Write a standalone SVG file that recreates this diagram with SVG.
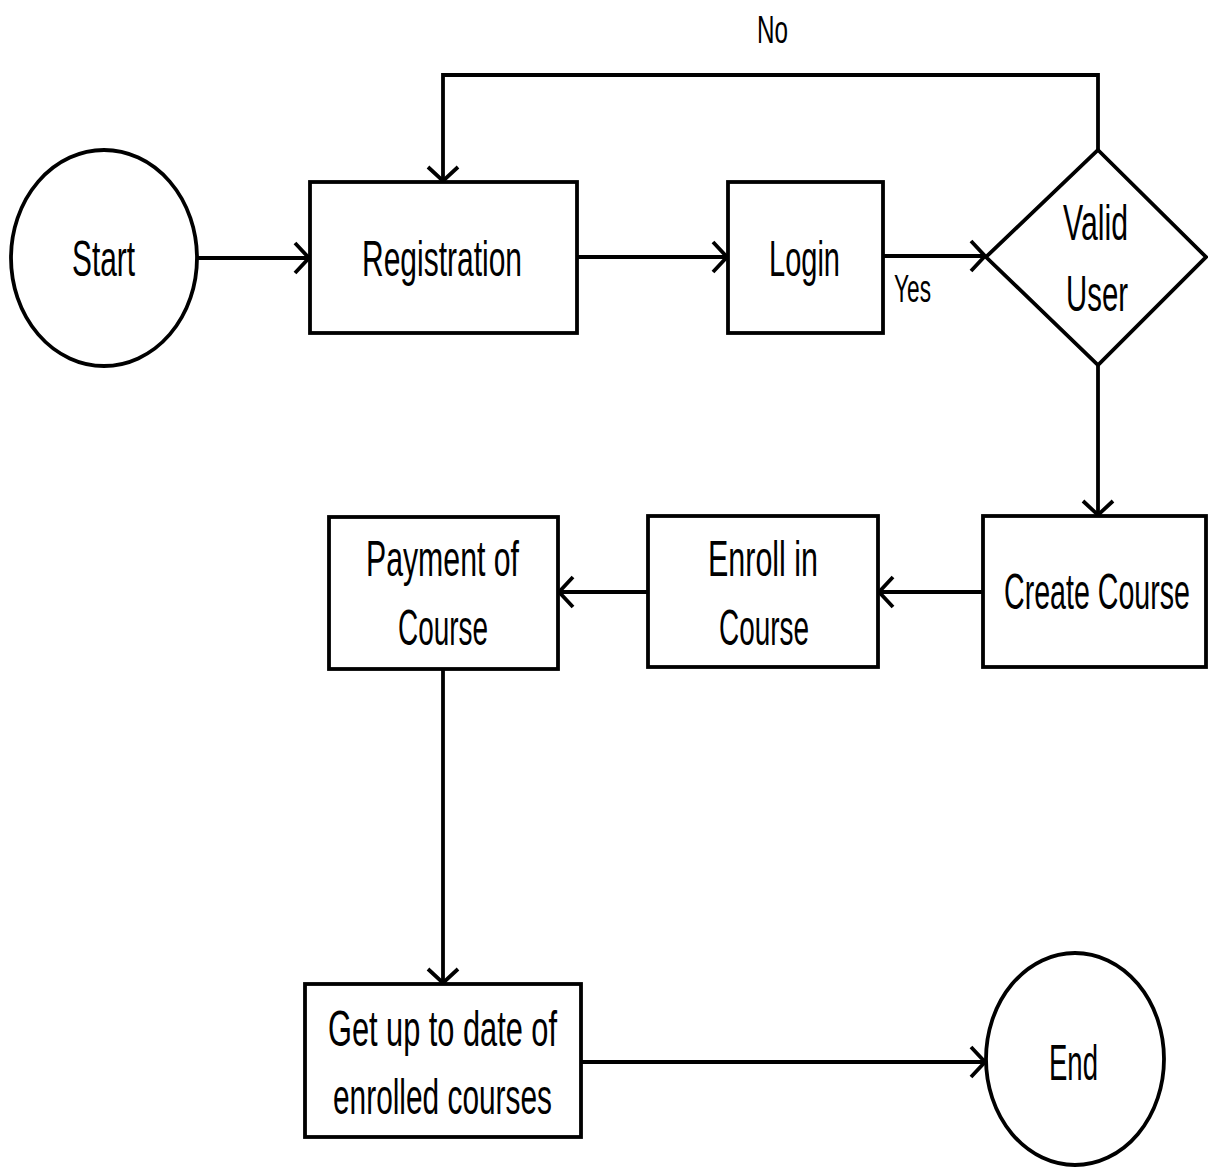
<svg xmlns="http://www.w3.org/2000/svg" width="1208" height="1167" viewBox="0 0 1208 1167">
<style>
.shape{fill:#fff;stroke:#000;stroke-width:3.8}
.edge{fill:none;stroke:#000;stroke-width:3.8;marker-end:url(#arrow)}
.lbl{font-family:"Liberation Sans",Arial,sans-serif;font-size:50px;fill:#000;text-anchor:start}
.small{font-size:38px}
</style>
<defs>
<marker id="arrow" markerUnits="userSpaceOnUse" viewBox="-16 -17 20 34" markerWidth="20" markerHeight="34" refX="0" refY="0" orient="auto">
<path d="M-14,-15 L0,0 L-14,15" fill="none" stroke="#000" stroke-width="3.8"/>
</marker>
</defs>
<rect width="1208" height="1167" fill="#fff"/>
<g id="connectors">
<path class="edge" d="M197,258 L309,258"/>
<path class="edge" d="M577,257 L727,257"/>
<path class="edge" d="M883,256 L985,256"/>
<path class="edge" d="M1098,150 L1098,75 L443,75 L443,181"/>
<path class="edge" d="M1098,365 L1098,515"/>
<path class="edge" d="M983,592 L879,592"/>
<path class="edge" d="M648,592 L559,592"/>
<path class="edge" d="M443,669 L443,983"/>
<path class="edge" d="M581,1062 L985,1062"/>
<text class="lbl small" x="894" y="302" textLength="37" lengthAdjust="spacingAndGlyphs">Yes</text>
<text class="lbl small" x="757" y="43" textLength="31" lengthAdjust="spacingAndGlyphs">No</text>
</g>
<g id="start">
<ellipse class="shape" cx="104" cy="258" rx="93" ry="108"/>
<text class="lbl" x="72" y="276" textLength="63" lengthAdjust="spacingAndGlyphs">Start</text>
</g>
<g id="registration">
<rect class="shape" x="310" y="182" width="267" height="151"/>
<text class="lbl" x="362" y="276" textLength="160" lengthAdjust="spacingAndGlyphs">Registration</text>
</g>
<g id="login">
<rect class="shape" x="728" y="182" width="155" height="151"/>
<text class="lbl" x="769" y="276" textLength="71" lengthAdjust="spacingAndGlyphs">Login</text>
</g>
<g id="valid-user">
<polygon class="shape" points="1098,150 1206,257 1098,365 986,257"/>
<text class="lbl" x="1063" y="240" textLength="65" lengthAdjust="spacingAndGlyphs">Valid</text>
<text class="lbl" x="1066" y="311" textLength="62" lengthAdjust="spacingAndGlyphs">User</text>
</g>
<g id="create-course">
<rect class="shape" x="983" y="516" width="223" height="151"/>
<text class="lbl" transform="translate(1004,609) scale(0.572,1)" x="0" y="0">Create Course</text>
</g>
<g id="enroll">
<rect class="shape" x="648" y="516" width="230" height="151"/>
<text class="lbl" x="708" y="576" textLength="110" lengthAdjust="spacingAndGlyphs">Enroll in</text>
<text class="lbl" x="719" y="645" textLength="90" lengthAdjust="spacingAndGlyphs">Course</text>
</g>
<g id="payment">
<rect class="shape" x="329" y="517" width="229" height="152"/>
<text class="lbl" x="366" y="576" textLength="153" lengthAdjust="spacingAndGlyphs">Payment of</text>
<text class="lbl" x="398" y="645" textLength="90" lengthAdjust="spacingAndGlyphs">Course</text>
</g>
<g id="get-up-to-date">
<rect class="shape" x="305" y="984" width="276" height="153"/>
<text class="lbl" x="328" y="1046" textLength="229" lengthAdjust="spacingAndGlyphs">Get up to date of</text>
<text class="lbl" x="333" y="1114" textLength="219" lengthAdjust="spacingAndGlyphs">enrolled courses</text>
</g>
<g id="end">
<ellipse class="shape" cx="1075" cy="1059" rx="89" ry="106"/>
<text class="lbl" x="1049" y="1080" textLength="49" lengthAdjust="spacingAndGlyphs">End</text>
</g>
</svg>
